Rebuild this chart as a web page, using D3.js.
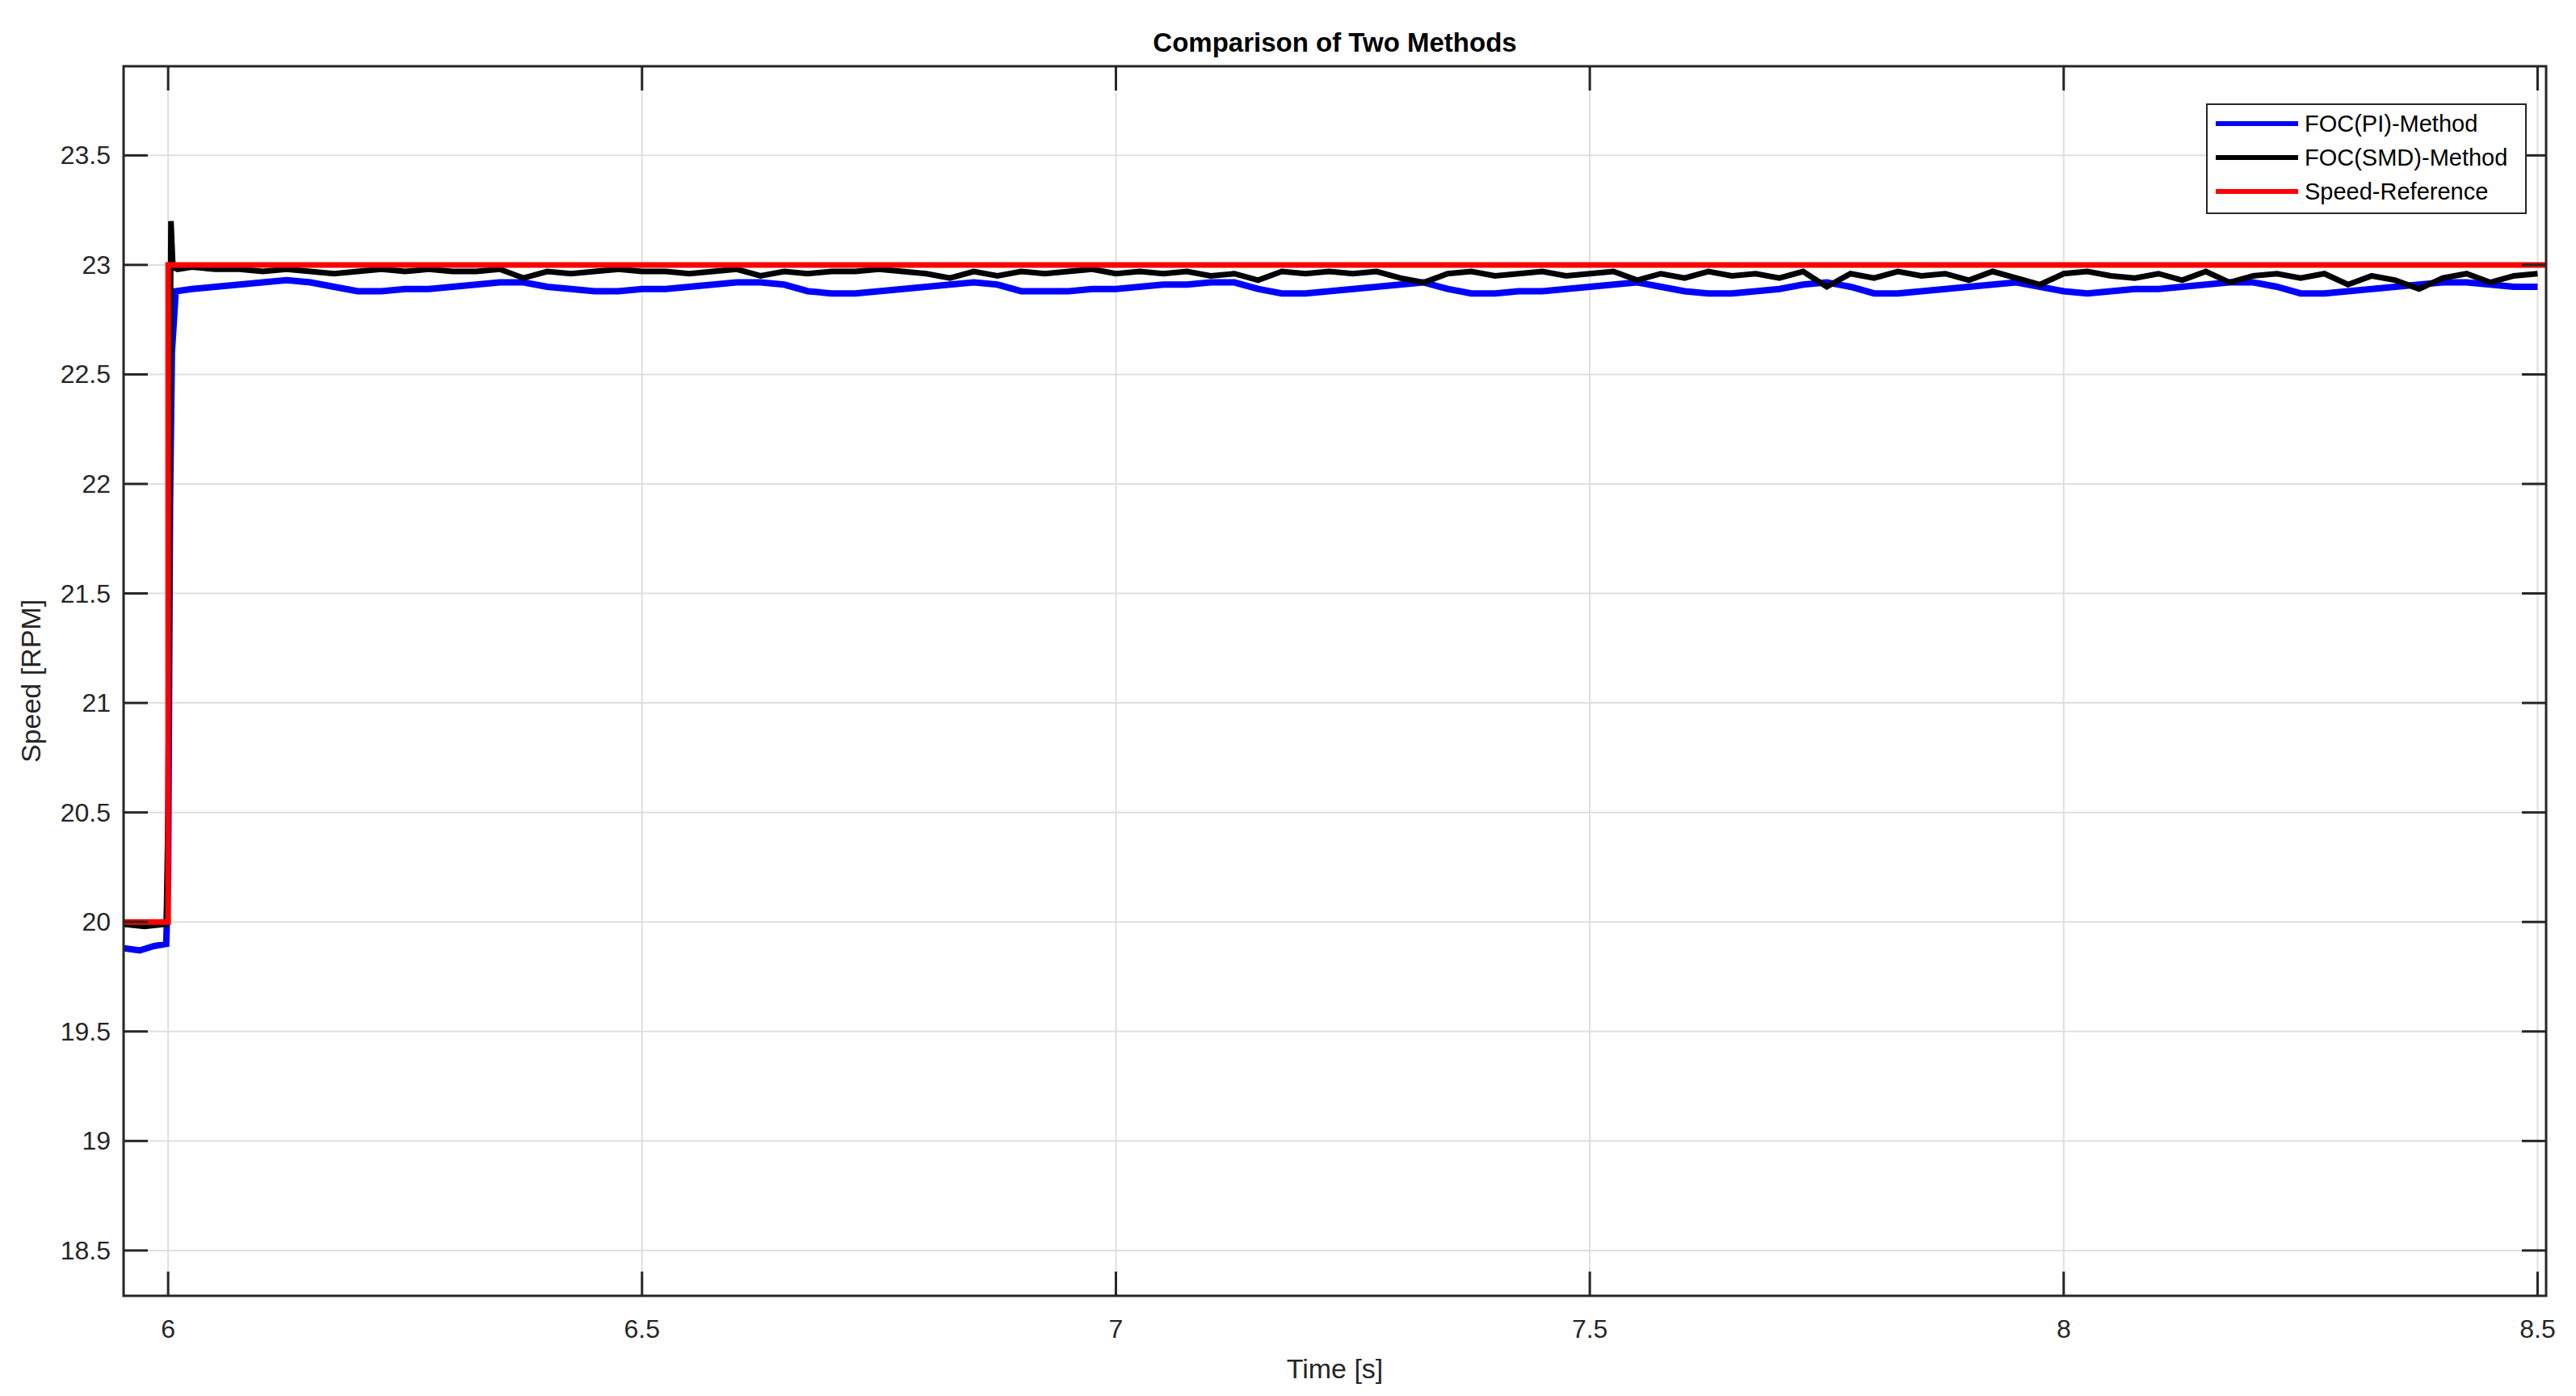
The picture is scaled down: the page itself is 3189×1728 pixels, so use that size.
<!DOCTYPE html>
<html><head><meta charset="utf-8">
<script src="https://cdn.jsdelivr.net/npm/d3@7"></script>
<style>body{margin:0;background:#fff}</style></head>
<body><svg id="c" width="3189" height="1728"></svg>
<script>
const xTicks=[6,6.5,7,7.5,8,8.5];
const yTicks=[18.5,19,19.5,20,20.5,21,21.5,22,22.5,23,23.5];
const seriesNames=["FOC(PI)-Method","FOC(SMD)-Method","Speed-Reference"];
const colors=["#0000ff","#000000","#ff0000"];
// step-region points (time, value)
const piStart=[[5.953,19.88],[5.97,19.87],[5.985,19.89],[5.998,19.90],[6.0,20.2],[6.002,21.9],[6.004,22.6],[6.008,22.88]];
const smdStart=[[5.953,19.99],[5.975,19.98],[5.998,19.99],[6.0,20.5],[6.002,22.5],[6.003,23.2],[6.005,22.99],[6.01,22.98]];
const refData=[[5.953,20],[6.0,20],[6.0,23],[8.509,23]];
const steadyTimes=d3.range(100).map(i=>6.025+i*0.025);
const piSteady=[22.89,22.90,22.91,22.92,22.93,22.92,22.90,22.88,22.88,22.89,
22.89,22.90,22.91,22.92,22.92,22.90,22.89,22.88,22.88,22.89,
22.89,22.90,22.91,22.92,22.92,22.91,22.88,22.87,22.87,22.88,
22.89,22.90,22.91,22.92,22.91,22.88,22.88,22.88,22.89,22.89,
22.90,22.91,22.91,22.92,22.92,22.89,22.87,22.87,22.88,22.89,
22.90,22.91,22.92,22.89,22.87,22.87,22.88,22.88,22.89,22.90,
22.91,22.92,22.90,22.88,22.87,22.87,22.88,22.89,22.91,22.92,
22.90,22.87,22.87,22.88,22.89,22.90,22.91,22.92,22.90,22.88,
22.87,22.88,22.89,22.89,22.90,22.91,22.92,22.92,22.90,22.87,
22.87,22.88,22.89,22.90,22.91,22.92,22.92,22.91,22.90,22.90];
const smdSteady=[22.99,22.98,22.98,22.97,22.98,22.97,22.96,22.97,22.98,22.97,
22.98,22.97,22.97,22.98,22.94,22.97,22.96,22.97,22.98,22.97,
22.97,22.96,22.97,22.98,22.95,22.97,22.96,22.97,22.97,22.98,
22.97,22.96,22.94,22.97,22.95,22.97,22.96,22.97,22.98,22.96,
22.97,22.96,22.97,22.95,22.96,22.93,22.97,22.96,22.97,22.96,
22.97,22.94,22.92,22.96,22.97,22.95,22.96,22.97,22.95,22.96,
22.97,22.93,22.96,22.94,22.97,22.95,22.96,22.94,22.97,22.90,
22.96,22.94,22.97,22.95,22.96,22.93,22.97,22.94,22.91,22.96,
22.97,22.95,22.94,22.96,22.93,22.97,22.92,22.95,22.96,22.94,
22.96,22.91,22.95,22.93,22.89,22.94,22.96,22.92,22.95,22.96];

const L=153,R=3152,T=82,B=1604;
const x=d3.scaleLinear().domain([5.953,8.509]).range([L,R]);
const y=d3.scaleLinear().domain([18.293,23.907]).range([B,T]);
const svg=d3.select("#c");
const font="Arial, 'Liberation Sans', Helvetica, sans-serif";
const g=svg.append("g");
// grid
g.selectAll(".gx").data(xTicks).join("line").attr("x1",d=>x(d)).attr("x2",d=>x(d)).attr("y1",T).attr("y2",B).attr("stroke","#dfdfdf").attr("stroke-width",2);
g.selectAll(".gy").data(yTicks).join("line").attr("y1",d=>y(d)).attr("y2",d=>y(d)).attr("x1",L).attr("x2",R).attr("stroke","#dfdfdf").attr("stroke-width",2);
// data
const line=d3.line().x(d=>x(d[0])).y(d=>y(d[1]));
const clip=svg.append("clipPath").attr("id","cp").append("rect").attr("x",L).attr("y",T).attr("width",R-L).attr("height",B-T);
const dg=svg.append("g").attr("clip-path","url(#cp)");
const pi=piStart.concat(steadyTimes.map((t,i)=>[t,piSteady[i]]));
const smd=smdStart.concat(steadyTimes.map((t,i)=>[t,smdSteady[i]]));
dg.append("path").attr("d",line(pi)).attr("fill","none").attr("stroke",colors[0]).attr("stroke-width",8);
dg.append("path").attr("d",line(smd)).attr("fill","none").attr("stroke",colors[1]).attr("stroke-width",7);
dg.append("path").attr("d",line(refData)).attr("fill","none").attr("stroke",colors[2]).attr("stroke-width",7);
// axes (inside ticks)
const ax=svg.append("g").attr("font-family",font).attr("fill","#262626");
ax.append("rect").attr("x",L).attr("y",T).attr("width",R-L).attr("height",B-T).attr("fill","none").attr("stroke","#262626").attr("stroke-width",3);
xTicks.forEach(d=>{
  ax.append("line").attr("x1",x(d)).attr("x2",x(d)).attr("y1",B).attr("y2",B-30).attr("stroke","#262626").attr("stroke-width",3);
  ax.append("line").attr("x1",x(d)).attr("x2",x(d)).attr("y1",T).attr("y2",T+30).attr("stroke","#262626").attr("stroke-width",3);
  ax.append("text").attr("x",x(d)).attr("y",B+52).attr("text-anchor","middle").attr("font-size",32).text(d);
});
yTicks.forEach(d=>{
  ax.append("line").attr("y1",y(d)).attr("y2",y(d)).attr("x1",L).attr("x2",L+30).attr("stroke","#262626").attr("stroke-width",3);
  ax.append("line").attr("y1",y(d)).attr("y2",y(d)).attr("x1",R).attr("x2",R-30).attr("stroke","#262626").attr("stroke-width",3);
  ax.append("text").attr("x",L-16).attr("y",y(d)+11).attr("text-anchor","end").attr("font-size",32).text(d);
});
ax.append("text").attr("x",(L+R)/2).attr("y",1706).attr("text-anchor","middle").attr("font-size",34).text("Time [s]");
ax.append("text").attr("transform",`translate(50,${(T+B)/2}) rotate(-90)`).attr("text-anchor","middle").attr("font-size",34).text("Speed [RPM]");
svg.append("text").attr("x",(L+R)/2).attr("y",64).attr("text-anchor","middle").attr("font-family",font).attr("font-weight","bold").attr("font-size",33).attr("fill","#000").text("Comparison of Two Methods");
// legend
const lg=svg.append("g").attr("font-family",font);
lg.append("rect").attr("x",2732).attr("y",129).attr("width",395).attr("height",135).attr("fill","#fff").attr("stroke","#262626").attr("stroke-width",2);
seriesNames.forEach((n,i)=>{
  const yy=153+i*42;
  lg.append("line").attr("x1",2743).attr("x2",2845).attr("y1",yy).attr("y2",yy).attr("stroke",colors[i]).attr("stroke-width",6);
  lg.append("text").attr("x",2853).attr("y",yy+10).attr("font-size",29).attr("fill","#000").text(n);
});
</script></body></html>
